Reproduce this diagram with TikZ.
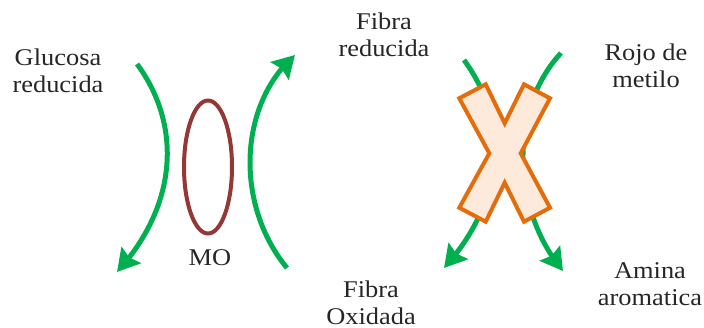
\documentclass[tikz,border=0pt]{standalone}
\usepackage{fontspec}
\setmainfont[FakeStretch=1.1]{Liberation Serif}
\usetikzlibrary{arrows.meta,bending,shapes.geometric}
\definecolor{flowgreen}{RGB}{0,176,80}
\definecolor{moborder}{RGB}{149,55,53}
\definecolor{xborder}{RGB}{228,108,10}
\definecolor{xfill}{RGB}{253,234,218}
\tikzset{
  flow/.style={draw=flowgreen,line width=5pt,-{Stealth[length=22pt,width=25pt,inset=3pt,flex]}},
  lbl/.style={align=center,font=\fontsize{24}{27}\selectfont,inner sep=0pt,text=black!85},
}

\begin{document}
\begin{tikzpicture}[x=1pt,y=-1pt]
\useasboundingbox (0,0) rectangle (704,328);

%left pair
\coordinate (glucA) at (137,64); \coordinate (glucB) at (117,272);
\coordinate (fibA) at (287,268); \coordinate (fibB) at (295,55);
\draw [flow] (glucA) .. controls (182,125) and (178,205) .. (glucB);
\draw [flow] (fibA) .. controls (235,205) and (238,105) .. (fibB);
\node [draw=moborder,line width=4pt,ellipse,minimum width=48pt,minimum height=133pt,inner sep=0pt] (mo) at (208,167) {};

%right pair
\coordinate (fibC) at (464,60); \coordinate (fibD) at (444,268);
\coordinate (rojoA) at (561,53); \coordinate (rojoB) at (563,271);
\draw [flow] (fibC) .. controls (509,121) and (505,201) .. (fibD);
\draw [flow] (rojoA) .. controls (508,110) and (512,210) .. (rojoB);
\draw [draw=xborder,fill=xfill,line width=4pt,line join=miter] (485.7,84.3) -- (504.7,123.3) -- (524,84.3) -- (550,98.3) -- (520.7,153.3) -- (550,207.7) -- (524,221.7) -- (504.7,182.7) -- (485.7,221.7) -- (459.3,207.7) -- (489.3,153.3) -- (459.3,98.3) -- cycle;

\node [lbl] (gluc) at (58,71) {Glucosa\\reducida};
\node [lbl] (fibr) at (384,35) {Fibra\\reducida};
\node [lbl] (rojo) at (646,66) {Rojo de\\metilo};
\node [lbl] (molbl) at (210,258) {MO};
\node [lbl] (fibo) at (371,303) {Fibra\\Oxidada};
\node [lbl] (amin) at (650,284) {Amina\\aromatica};
\end{tikzpicture}
\end{document}
